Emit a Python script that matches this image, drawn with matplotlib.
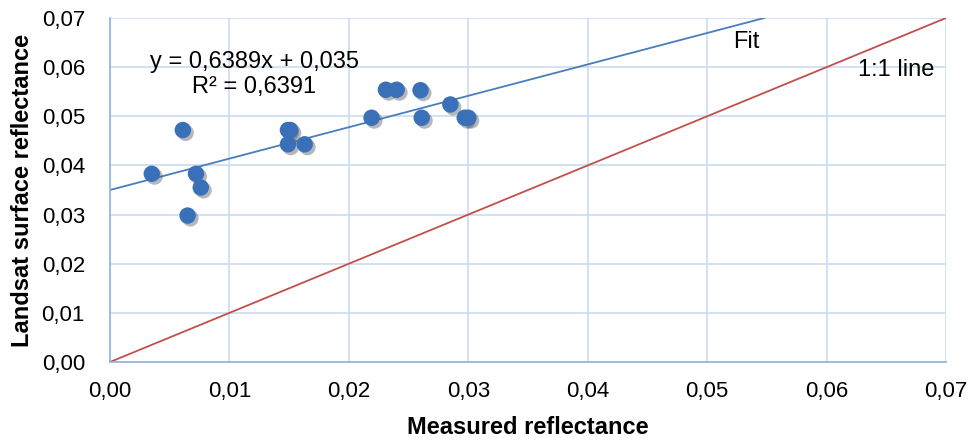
import matplotlib.pyplot as plt
import matplotlib.patheffects as pe
import numpy as np
from matplotlib.ticker import FuncFormatter

plt.rcParams["font.family"] = ["Liberation Sans", "DejaVu Sans"]

# measured vs Landsat surface reflectance
measured = [0.0035, 0.0061, 0.0072, 0.0076, 0.0065, 0.0149, 0.0151, 0.0149, 0.0163,
            0.0219, 0.0231, 0.0240, 0.0260, 0.0261, 0.0285, 0.0297, 0.0300]
landsat = [0.0383, 0.0472, 0.0383, 0.0355, 0.0298, 0.0472, 0.0472, 0.0443, 0.0443,
           0.0497, 0.0554, 0.0554, 0.0553, 0.0497, 0.0524, 0.0497, 0.0497]
slope = 0.6389
intercept = 0.035
r2 = 0.6391

comma = FuncFormatter(lambda v, _: f"{v:.2f}".replace(".", ","))

fig = plt.figure(figsize=(9.75, 4.43), dpi=100)
ax = fig.add_axes([0.1128, 0.1828, 0.8575, 0.7766])

ax.set_xlim(0, 0.07)
ax.set_ylim(0, 0.07)
ax.set_xticks(np.arange(0, 0.0701, 0.01))
ax.set_yticks(np.arange(0, 0.0701, 0.01))
ax.xaxis.set_major_formatter(comma)
ax.yaxis.set_major_formatter(comma)
ax.grid(color="#c9dbf2", linewidth=1.2)
ax.set_axisbelow(True)
for side in ("top", "right"):
    ax.spines[side].set_visible(False)
for side in ("left", "bottom"):
    ax.spines[side].set_color("#8db3e2")
    ax.spines[side].set_linewidth(1.2)
ax.tick_params(length=0, labelsize=16)
ax.tick_params(axis="x", pad=14)
ax.tick_params(axis="y", pad=18)

# 1:1 reference and regression fit
ax.plot([0, 0.07], [0, 0.07], color="#c0504d", linewidth=1.3, zorder=2)
x_end = (0.07 - intercept) / slope
fx = np.array([0, x_end])
ax.plot(fx, slope * fx + intercept, color="#4a7ebb", linewidth=1.3, zorder=2)

shadow = pe.SimplePatchShadow(offset=(2, -2), shadow_rgbFace="#4a4a5a", alpha=0.4)
ax.scatter(measured, landsat, s=140, color="#3a70b8", edgecolors="none", zorder=3,
           path_effects=[shadow, pe.Normal()])

ax.text(0.01206, 0.0611, f"y = {slope:.4f}x + {intercept:.3f}".replace(".", ","),
        fontsize=17, ha="center", va="center")
ax.text(0.01206, 0.0560, f"R² = {r2:.4f}".replace(".", ","),
        fontsize=17, ha="center", va="center")
ax.text(0.0533, 0.0652, "Fit", fontsize=17, ha="center", va="center")
ax.text(0.0658, 0.0595, "1:1 line", fontsize=17, ha="center", va="center")

ax.set_xlabel("Measured reflectance", fontsize=17, fontweight="bold", va="center")
ax.set_ylabel("Landsat surface reflectance", fontsize=17, fontweight="bold", va="center")
ax.xaxis.set_label_coords(0.5, -0.189)
ax.yaxis.set_label_coords(-0.105, 0.5)

fig.savefig("out.png", dpi=100)
